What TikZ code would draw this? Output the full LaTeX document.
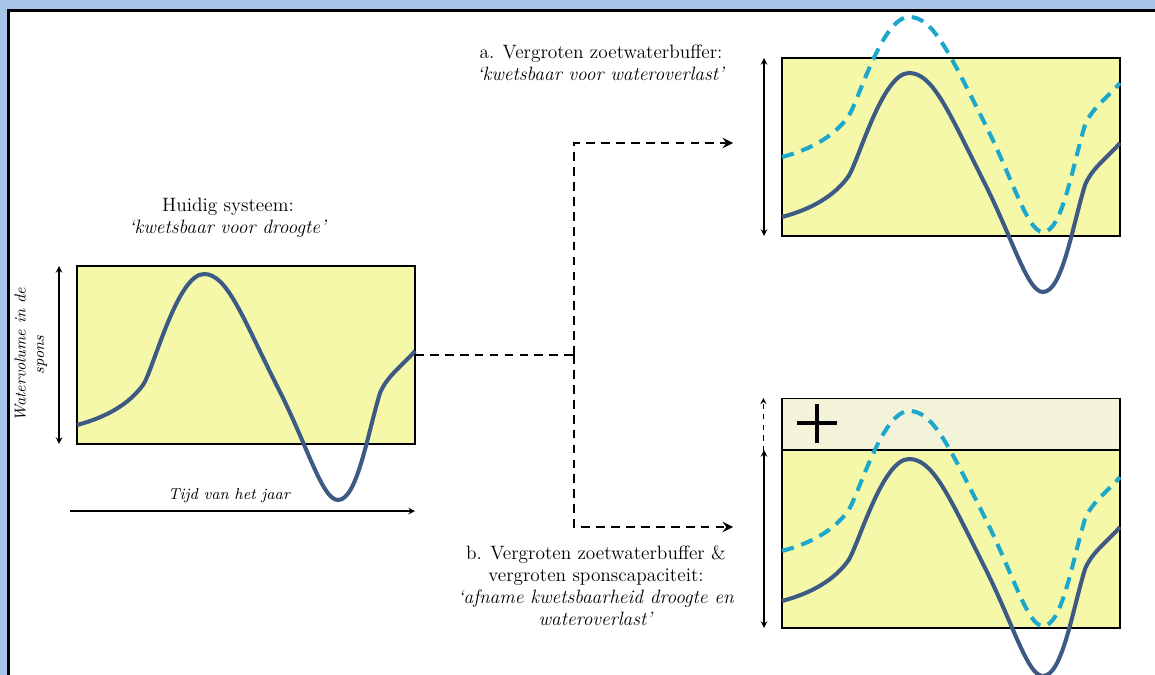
\documentclass[tikz,border=0pt]{standalone}
\usetikzlibrary{calc}
\definecolor{kaderblauw}{HTML}{A6C4E8}
\definecolor{sponsgeel}{HTML}{F5F7A9}
\definecolor{sponsextra}{HTML}{F3F3DA}
\definecolor{lijnblauw}{HTML}{3D5A85}
\definecolor{buffercyaan}{HTML}{1BA8CC}
\tikzset{
  spons/.style={draw, fill=sponsgeel, line width=.7pt, minimum width=6.76cm, minimum height=3.56cm, inner sep=0pt, outer sep=0pt},
  verbinding/.style={line width=1.6pt, dash pattern=on 5pt off 3.5pt},
  titel/.style={align=center, font=\fontsize{11}{12.5}\selectfont},
  golflijn/.style={lijnblauw, line width=2.3pt},
  bufferlijn/.style={buffercyaan, line width=2.3pt, dash pattern=on 7pt off 4.5pt},
}
% #1 = stijl, #2 = hoogte van de top
\newcommand{\golf}[2]{\draw[#1] (0,159) .. controls (30,151) and (52,138) .. (66,119)
  .. controls (76,105) and (100,#2) .. (127,#2)
  .. controls (150,#2) and (165,50) .. (200,120)
  .. controls (230,178) and (245,234) .. (261,234)
  .. controls (280,234) and (290,170) .. (303,127)
  .. controls (310,110) and (325,100) .. (338,85);}
\begin{document}
\begin{tikzpicture}[x=0.02cm, y=-0.02cm, >=stealth]
\useasboundingbox (0,0) rectangle (1155,675);
\fill[kaderblauw] (0,0) rectangle (1155,675);
\fill[white] (9,11) rectangle (1155,675);
\draw[line width=1.2pt] (1155,10.5)--(8.5,10.5)--(8.5,675);

% huidig systeem
\node[spons] (huidig) at (246,355) {};
\begin{scope}[shift={(77,266)}]
\golf{golflijn}{8}
\end{scope}
\node[titel] (titelH) at (228,218) {Huidig systeem:\\ \textit{`kwetsbaar voor droogte'}};
\draw[<->, line width=.7pt] ($(huidig.north west)+(-18,0)$) -- ($(huidig.south west)+(-18,0)$);
\node[rotate=90, align=center, font=\itshape\fontsize{9}{10.5}\selectfont] (volume) at (31,355) {Watervolume in de\\ spons};
\coordinate (tijdA) at (70,511);
\coordinate (tijdB) at (415,511);
\draw[->, line width=.7pt] (tijdA) -- (tijdB);
\node[font=\itshape\fontsize{9}{10}\selectfont] (tijd) at (229,496) {Tijd van het jaar};

% a. vergroten zoetwaterbuffer
\node[spons] (bufferA) at (951,147) {};
\node[titel] (titelA) at (601,63) {a. Vergroten zoetwaterbuffer:\\ \textit{`kwetsbaar voor wateroverlast'}};
\draw[<->, line width=.7pt] ($(bufferA.north west)+(-18,0)$) -- ($(bufferA.south west)+(-18,0)$);

% b. vergroten sponscapaciteit
\node[draw, fill=sponsextra, line width=.7pt, minimum width=6.76cm, minimum height=1.04cm, inner sep=0pt] (extra) at (951,424.5) {};
\node[spons] (bufferB) at (951,539) {};
\draw[line width=2.8pt] (797,423) -- (837,423) (817,404) -- (817,443);
\node[titel] (titelB) at (596,586) {b. Vergroten zoetwaterbuffer \&\\ vergroten sponscapaciteit:\\ \textit{`afname kwetsbaarheid droogte en}\\ \textit{wateroverlast'}};
\draw[<->, line width=.7pt] ($(bufferB.north west)+(-18,0)$) -- ($(bufferB.south west)+(-18,0)$);
\draw[->, dashed, line width=.6pt] ($(extra.south west)+(-18,0)$) -- ($(extra.north west)+(-18,0)$);

% curves rechts
\foreach \boven/\top in {58/15, 442/17}
{
  \begin{scope}[shift={(782,\boven)}]
  \golf{golflijn}{\top}
  \end{scope}
}
\foreach \boven in {-2, 392}
{
  \begin{scope}[shift={(782,\boven)}]
  \golf{bufferlijn}{19}
  \end{scope}
}

% verbindingen
\coordinate (splits) at (574,355);
\coordinate (naarA) at (733,143);
\coordinate (naarB) at (733,527);
\draw[verbinding] (huidig.east) -- (splits);
\draw[verbinding, ->] (splits) |- (naarA);
\draw[verbinding, ->] (splits) |- (naarB);
\end{tikzpicture}
\end{document}
